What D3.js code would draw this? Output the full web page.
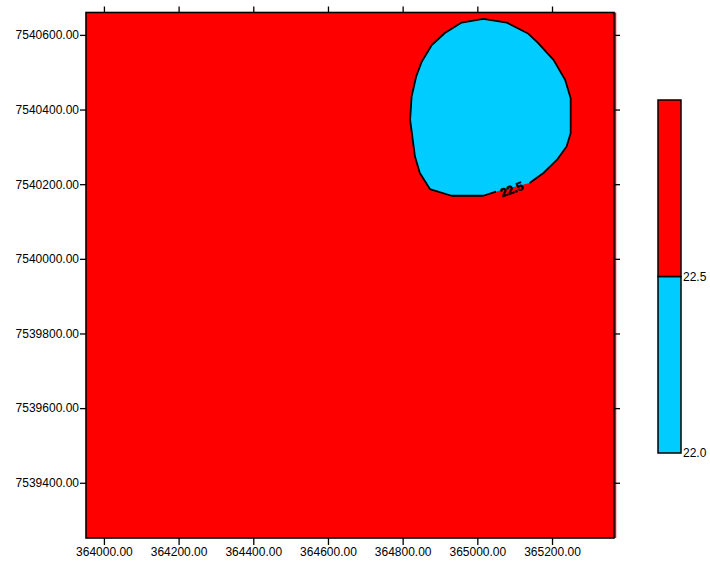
<!DOCTYPE html>
<html>
<head>
<meta charset="utf-8">
<script src="https://cdn.jsdelivr.net/npm/d3@7"></script>
<style>
  body { margin: 0; background: #fff; }
  svg { display: block; font-family: "Liberation Sans", Arial, sans-serif; }
</style>
</head>
<body>
<div id="chart"></div>
<script>
// grid extent (easting / northing)
const gridX = [363952, 365372];
const gridY = [7539252, 7540660];
const viewX = [363952, 365366];

const xTicks = [364000, 364200, 364400, 364600, 364800, 365000, 365200];
const yTicks = [7539400, 7539600, 7539800, 7540000, 7540200, 7540400, 7540600];

// 22.5 contour, starts just left of its label, runs round and ends just right of it
const contourX = [365050, 365016, 364931, 364873, 364846, 364833, 364820, 364824, 364836,
  364851, 364878, 364913, 364958, 365016, 365079, 365137, 365163, 365204, 365235,
  365250, 365250, 365239, 365213, 365177, 365140];
const contourY = [7540180, 7540169, 7540169, 7540187, 7540230, 7540274, 7540372, 7540435, 7540488,
  7540528, 7540573, 7540605, 7540633, 7540643, 7540633, 7540603, 7540578, 7540533, 7540480,
  7540430, 7540337, 7540301, 7540265, 7540230, 7540203];
const contourLevel = 22.5;

const levels = [22.0, 22.5, 23.0];
const levelColors = ['#00ccff', '#ff0000'];
const legendTicks = [22.0, 22.5];

const width = 710;
const height = 561;
const margin = { left: 86, right: 96, top: 12.5, bottom: 23 };

const svg = d3.select('#chart')
  .append('svg')
  .attr('width', width)
  .attr('height', height);

const x = d3.scaleLinear().domain(viewX).range([margin.left, width - margin.right]);
const y = d3.scaleLinear().domain(gridY).range([height - margin.bottom, margin.top]);

// red background grid (above 22.5)
svg.append('rect')
  .attr('x', x(gridX[0]))
  .attr('y', y(gridY[1]))
  .attr('width', x(gridX[1]) - x(gridX[0]))
  .attr('height', y(gridY[0]) - y(gridY[1]))
  .attr('fill', levelColors[1]);

const pts = contourX.map((d, i) => [x(d), y(contourY[i])]);

svg.append('path')
  .attr('d', d3.line()(pts) + 'Z')
  .attr('fill', levelColors[0]);

svg.append('path')
  .attr('d', d3.line()(pts))
  .attr('fill', 'none')
  .attr('stroke', '#000')
  .attr('stroke-width', 1.8)
  .attr('stroke-linejoin', 'round');

// contour label sits in the gap between last and first point
const p0 = pts[pts.length - 1];
const p1 = pts[0];
const angle = Math.atan2(p0[1] - p1[1], p0[0] - p1[0]) * 180 / Math.PI;
svg.append('text')
  .attr('transform', `translate(${(p0[0] + p1[0]) / 2 - 1},${(p0[1] + p1[1]) / 2 + 2}) rotate(${angle - 6})`)
  .attr('text-anchor', 'middle')
  .attr('dy', '0.35em')
  .attr('fill', '#000')
  .attr('stroke', '#000')
  .attr('stroke-width', 0.6)
  .style('font-size', '12px')
  .style('font-weight', 'bold')
  .text(contourLevel.toFixed(1));

// frame
svg.append('rect')
  .attr('x', x(viewX[0]))
  .attr('y', y(gridY[1]))
  .attr('width', x(viewX[1]) - x(viewX[0]))
  .attr('height', y(gridY[0]) - y(gridY[1]))
  .attr('fill', 'none')
  .attr('stroke', '#000')
  .attr('stroke-width', 1.6);

const fmt = d3.format('.2f');

const styleAxis = g => {
  g.select('.domain').remove();
  g.selectAll('.tick line').attr('stroke', '#000').attr('stroke-width', 1.3);
  g.selectAll('.tick text').attr('fill', '#000').style('font-size', '12px');
};

svg.append('g')
  .attr('transform', `translate(0,${y(gridY[0])})`)
  .call(d3.axisBottom(x).tickValues(xTicks).tickFormat(fmt).tickSize(7).tickPadding(2))
  .call(styleAxis);

svg.append('g')
  .attr('transform', `translate(0,${y(gridY[1])})`)
  .call(d3.axisTop(x).tickValues(xTicks).tickFormat('').tickSize(6))
  .call(styleAxis);

svg.append('g')
  .attr('transform', `translate(${x(viewX[0])},0)`)
  .call(d3.axisLeft(y).tickValues(yTicks).tickFormat(fmt).tickSize(6).tickPadding(1))
  .call(styleAxis);

svg.append('g')
  .attr('transform', `translate(${x(viewX[1])},0)`)
  .call(d3.axisRight(y).tickValues(yTicks).tickFormat('').tickSize(6))
  .call(styleAxis);

// colour scale bar
const legendX = 658;
const legendW = 23;
const ly = d3.scaleLinear().domain([levels[0], levels[levels.length - 1]]).range([453, 100]);

const legend = svg.append('g');

legend.selectAll('rect')
  .data(levelColors)
  .join('rect')
  .attr('x', legendX)
  .attr('y', (d, i) => ly(levels[i + 1]))
  .attr('width', legendW)
  .attr('height', (d, i) => ly(levels[i]) - ly(levels[i + 1]))
  .attr('fill', d => d)
  .attr('stroke', '#000')
  .attr('stroke-width', 1.5);

legend.append('g')
  .attr('transform', `translate(${legendX + legendW},0)`)
  .call(d3.axisRight(ly).tickValues(legendTicks).tickFormat(d3.format('.1f')).tickSize(0).tickPadding(2))
  .call(styleAxis);
</script>
</body>
</html>
